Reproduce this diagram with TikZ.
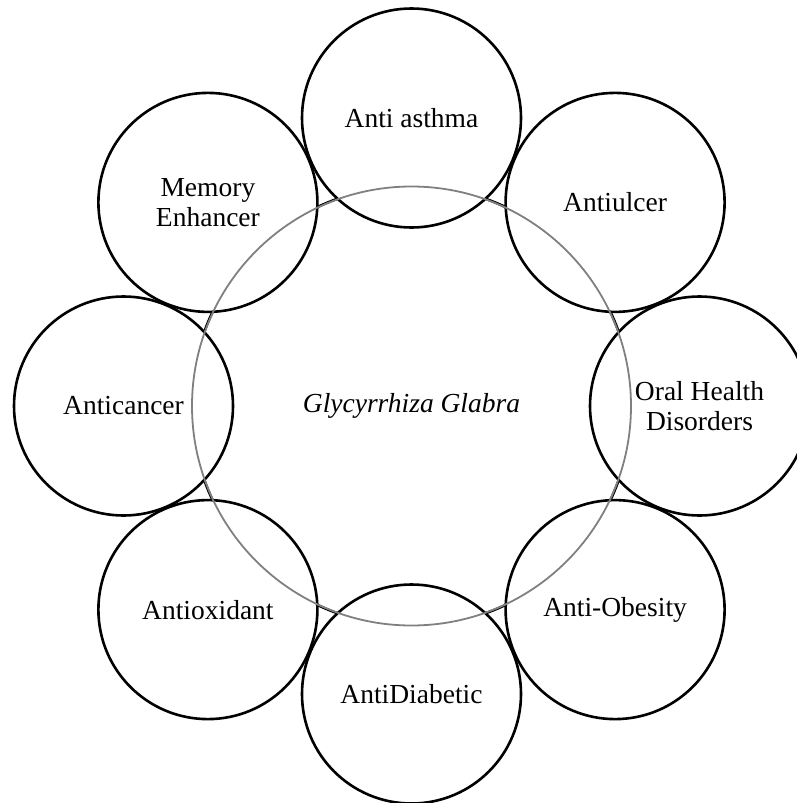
\documentclass[tikz,border=0pt]{standalone}
\usepackage{fontspec}
\setmainfont{Liberation Serif}
\begin{document}
\begin{tikzpicture}[x=1pt,y=-1pt,
  effect/.style={circle,draw=black,line width=2.6pt,fill=white,minimum size=219pt,inner sep=0pt,align=center,
    font=\fontsize{27.5}{30}\selectfont},
  hub/.style={circle,draw=black,line width=2.6pt,minimum size=440pt,inner sep=0pt,
    font=\fontsize{27.5}{30}\selectfont\itshape},
  ring/.style={draw=black!50,line width=1.8pt}]
\useasboundingbox (0,0) rectangle (797,803);
\node[hub] (main) at (411.5,406) {};
\node[effect] (asthma) at (411.5,118) {Anti asthma};
\node[effect] (ulcer) at (615.1,202.4) {Antiulcer};
\node[effect] (oral) at (699.5,406) {Oral Health\\Disorders};
\node[effect] (obesity) at (615.1,609.6) {Anti-Obesity};
\node[effect] (diabetic) at (411.5,694) {AntiDiabetic};
\node[effect] (oxidant) at (207.9,609.6) {Antioxidant};
\node[effect] (cancer) at (123.5,406) {Anticancer};
\node[effect] (memory) at (207.9,202.4) {Memory\\Enhancer};
\draw[ring] (main.center) circle[radius=219.5];
\node[font=\fontsize{27.5}{30}\selectfont\itshape] (title) at (main.center) {Glycyrrhiza Glabra};
\end{tikzpicture}
\end{document}
